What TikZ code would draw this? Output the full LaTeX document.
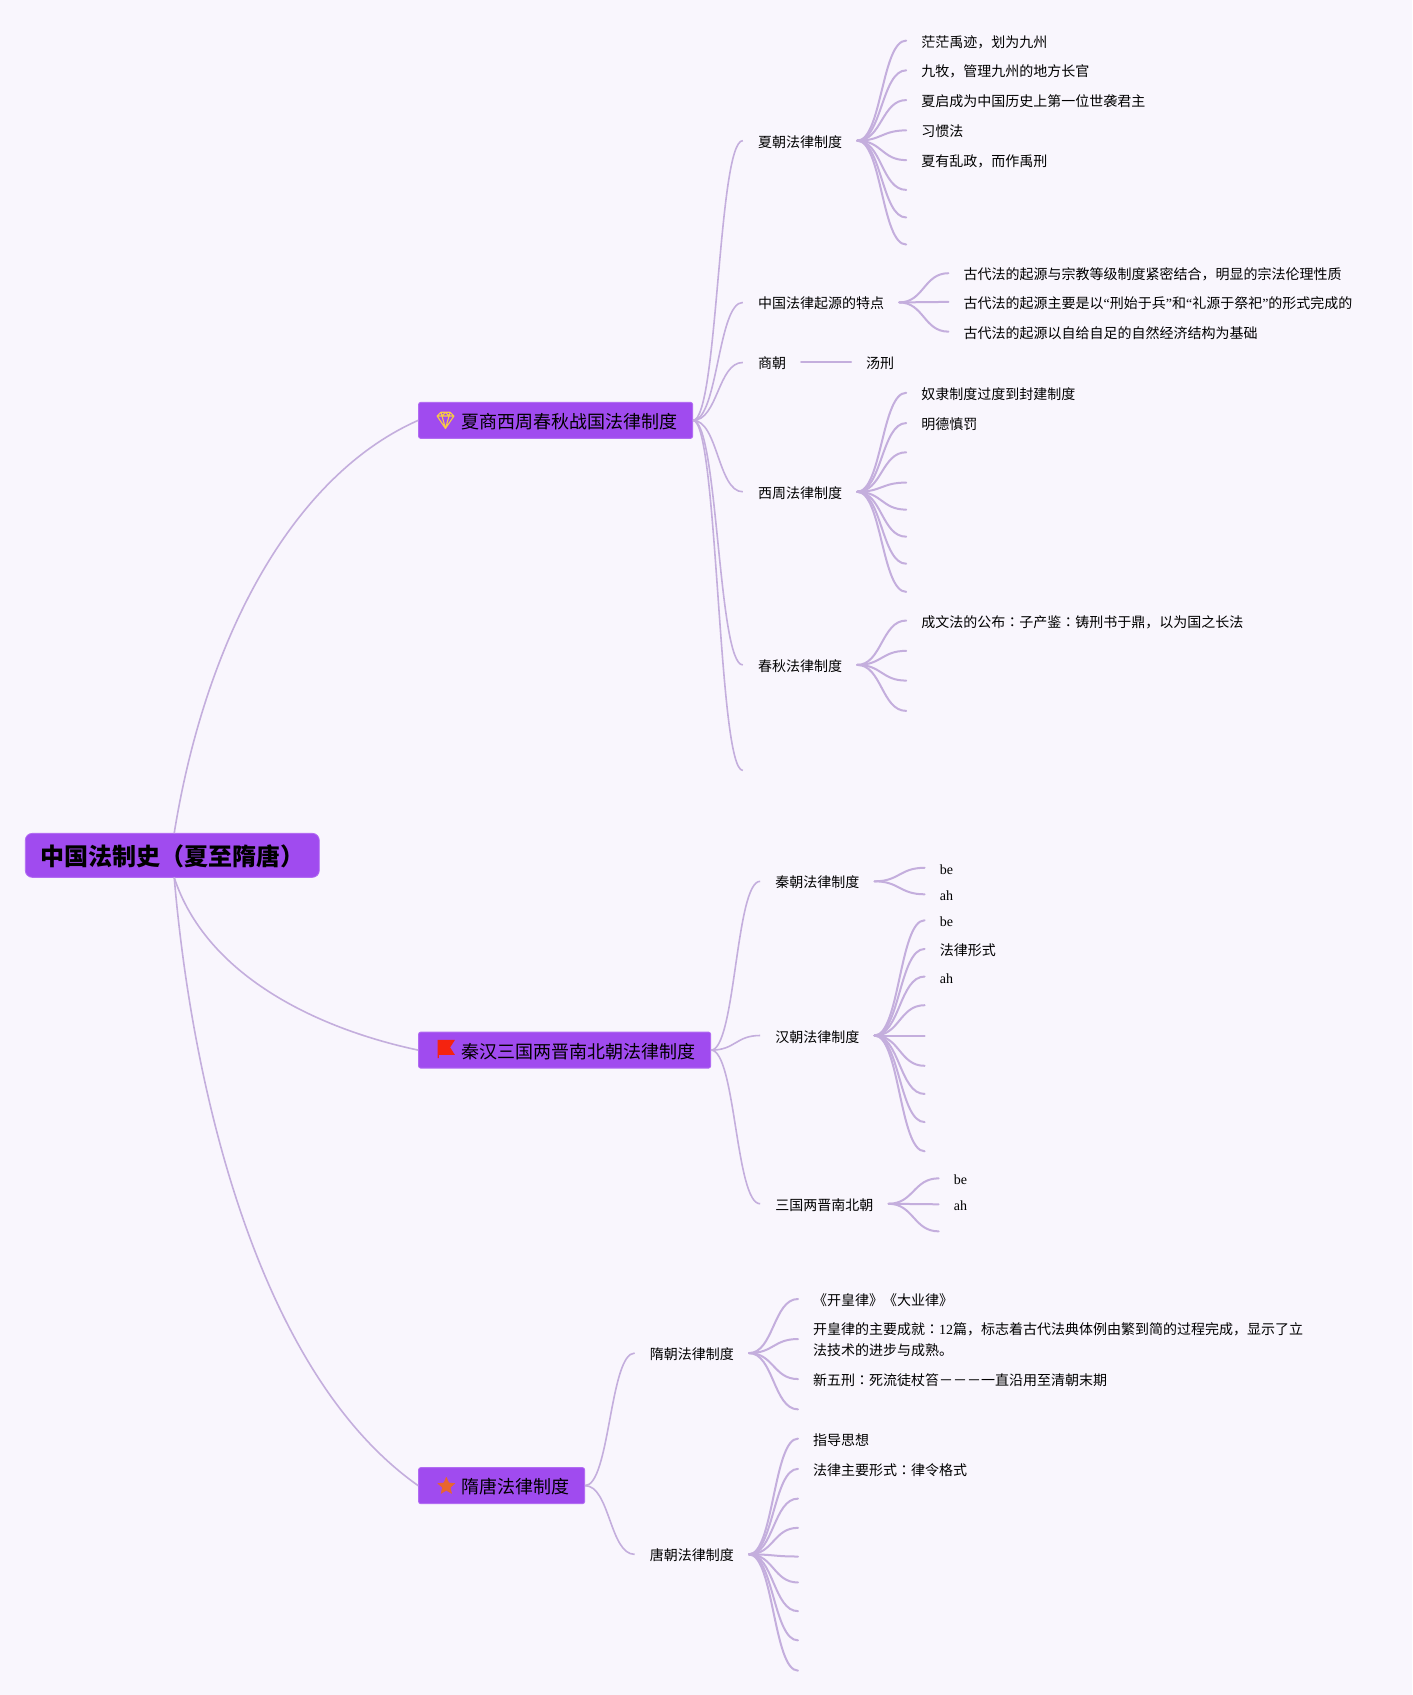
\documentclass[tikz,border=0pt]{standalone}
\usepackage{fontspec}
\setmainfont{Liberation Serif}
\newfontfamily\cjk{Noto Sans CJK SC}
\newfontfamily\cjktc{Noto Sans CJK TC}
\newfontfamily\latinf{Liberation Serif}
\newcommand{\latn}[1]{{\latinf #1}}
\newcommand{\colonm}{{\cjktc ：}}
\usetikzlibrary{calc,shapes.geometric}
\definecolor{bgc}{HTML}{F9F6FD}
\definecolor{boxc}{HTML}{A04BEF}
\definecolor{edgec}{HTML}{B26CF2}
\definecolor{linkc}{HTML}{C4AEDD}
\definecolor{gemc}{HTML}{F7CB45}
\definecolor{flagc}{HTML}{F5230F}
\definecolor{starc}{HTML}{E8652F}
\tikzset{
    brn/.style={to path={let \p1=(\tikztostart),\p2=(\tikztotarget) in
        .. controls ({0.5*\x1+0.5*\x2},\y1) and ({0.5*\x1+0.5*\x2},\y2) .. (\p2)}},
    toplink/.style={draw=linkc, line width=1.6pt},
    fan/.style={draw=linkc, line width=2pt, line cap=round},
    rootbox/.style={anchor=west, fill=boxc, draw=edgec, line width=0.8pt, rounded corners=7pt, minimum height=44pt, inner xsep=15pt, text height=23pt, text depth=3pt, font=\cjk\bfseries\fontsize{24}{28}\selectfont},
    mainbox/.style={anchor=west, fill=boxc, draw=edgec, line width=0.8pt, rounded corners=2pt, minimum height=36pt, inner xsep=15pt, text height=18pt, text depth=2pt, font=\cjk\fontsize{18}{22}\selectfont},
    leaf/.style={anchor=west, align=left, inner xsep=15pt, inner ysep=0pt, text height=16pt, text depth=3pt, font=\cjk\fontsize{14}{21}\selectfont}
}
\begin{document}
\begin{tikzpicture}[x=1.082pt, y=-1.082pt]
    \useasboundingbox (0,0) rectangle (1305,1566.5);
    \fill[bgc] (0,0) rectangle (1305,1566.5);
    % top boxes
    \node[rootbox] (root) at (23,790.5) {中国法制史（夏至隋唐）};
    \node[mainbox] (law1) at (386.5,388.5) {\hspace*{28pt}夏商西周春秋战国法律制度};
    \node[mainbox] (law2) at (386.5,970.5) {\hspace*{28pt}秦汉三国两晋南北朝法律制度};
    \node[mainbox] (law3) at (386.5,1373) {\hspace*{28pt}隋唐法律制度};
    \coordinate (roottop) at (161,770);
    \coordinate (rootbot) at (161,811);
    \draw[toplink] (roottop) .. controls (190,590) and (270,440) .. (law1.west);
    \draw[toplink] (rootbot) .. controls (190,900) and (290,950) .. (law2.west);
    \draw[toplink] (rootbot) .. controls (178,1010) and (240,1270) .. (law3.west);
    % icons
    \draw[draw=gemc, line width=1.1pt, line join=round] (404,384.5) -- (407.5,381) -- (416,381) -- (419.5,384.5) -- (411.7,396) -- cycle (404,384.5) -- (419.5,384.5) (408.5,384.5) -- (411.7,396) -- (415,384.5) (407.5,381) -- (408.5,384.5) -- (411.7,381) -- (415,384.5) -- (416,381);
    \fill[flagc] (404.5,961) -- (420.5,961) -- (416,968) -- (420.5,975) -- (405.5,975) -- (405.5,978) -- (404.5,978) -- cycle;
    \node[star, star points=5, star point ratio=2.2, fill=starc, draw=starc, line join=round, inner sep=0pt, minimum size=18pt] (staricon) at (412.5,1373.5) {};
    % first branch
    \node[leaf] (xia) at (686.5,130) {夏朝法律制度};
    \node[leaf] (origin) at (686.5,279.5) {中国法律起源的特点};
    \node[leaf] (shang) at (686.5,335) {商朝};
    \node[leaf] (zhou) at (686.5,454.5) {西周法律制度};
    \node[leaf] (chun) at (686.5,614.5) {春秋法律制度};
    \coordinate (zhan) at (686.5,712);
    \foreach \nm in {xia,origin,shang,zhou,chun}
        \draw[toplink] (law1.east) to[brn] (\nm.west);
    \draw[toplink] (law1.east) to[brn] (zhan);
    \foreach \yy/\t [count=\i] in {37.5/{茫茫禹迹，划为九州},65/{九牧，管理九州的地方长官},92.5/{夏启成为中国历史上第一位世袭君主},120.5/{习惯法},148/{夏有乱政，而作禹刑}} {
        \node[leaf] (xia\i) at (837.5,\yy) {\t};
        \draw[fan] (xia.east) to[brn] (xia\i.west);
    }
    \foreach \yy [count=\i from 6] in {175.5,201,226} {
        \coordinate (xia\i) at (837.5,\yy);
        \draw[fan] (xia.east) to[brn] (xia\i);
    }
    \foreach \yy/\t [count=\i] in {252.5/{古代法的起源与宗教等级制度紧密结合，明显的宗法伦理性质},279/{古代法的起源主要是以\latn{“}刑始于兵\latn{”}和\latn{“}礼源于祭祀\latn{”}的形式完成的},306.5/{古代法的起源以自给自足的自然经济结构为基础}} {
        \node[leaf] (origin\i) at (876.5,\yy) {\t};
        \draw[fan] (origin.east) to[brn] (origin\i.west);
    }
    \node[leaf] (shang1) at (786.5,335) {汤刑};
    \draw[fan] (shang.east) -- (shang1.west);
    \foreach \yy/\t [count=\i] in {363/{奴隶制度过度到封建制度},391/{明德慎罚}} {
        \node[leaf] (zhou\i) at (837.5,\yy) {\t};
        \draw[fan] (zhou.east) to[brn] (zhou\i.west);
    }
    \foreach \yy [count=\i from 3] in {418,446,471,496,521,547} {
        \coordinate (zhou\i) at (837.5,\yy);
        \draw[fan] (zhou.east) to[brn] (zhou\i);
    }
    \node[leaf] (chun1) at (837.5,573.5) {成文法的公布\colonm 子产鉴\colonm 铸刑书于鼎，以为国之长法};
    \draw[fan] (chun.east) to[brn] (chun1.west);
    \foreach \yy [count=\i from 2] in {601.5,629,657} {
        \coordinate (chun\i) at (837.5,\yy);
        \draw[fan] (chun.east) to[brn] (chun\i);
    }
    % second branch
    \node[leaf] (qin) at (702.5,814.5) {秦朝法律制度};
    \node[leaf] (han) at (702.5,957) {汉朝法律制度};
    \node[leaf] (wei) at (702.5,1112.5) {三国两晋南北朝};
    \foreach \nm in {qin,han,wei}
        \draw[toplink] (law2.east) to[brn] (\nm.west);
    \foreach \yy/\t [count=\i] in {802/{\latn{be}},826.5/{\latn{ah}}} {
        \node[leaf] (qin\i) at (854.5,\yy) {\t};
        \draw[fan] (qin.east) to[brn] (qin\i.west);
    }
    \foreach \yy/\t [count=\i] in {850.5/{\latn{be}},877/{法律形式},902.5/{\latn{ah}}} {
        \node[leaf] (han\i) at (854.5,\yy) {\t};
        \draw[fan] (han.east) to[brn] (han\i.west);
    }
    \foreach \yy [count=\i from 4] in {929,957,985,1011,1037,1064} {
        \coordinate (han\i) at (854.5,\yy);
        \draw[fan] (han.east) to[brn] (han\i);
    }
    \foreach \yy/\t [count=\i] in {1089/{\latn{be}},1113/{\latn{ah}}} {
        \node[leaf] (wei\i) at (867.5,\yy) {\t};
        \draw[fan] (wei.east) to[brn] (wei\i.west);
    }
    \coordinate (wei3) at (867.5,1138);
    \draw[fan] (wei.east) to[brn] (wei3);
    % third branch
    \node[leaf] (sui) at (586.5,1250.5) {隋朝法律制度};
    \node[leaf] (tang) at (586.5,1436.5) {唐朝法律制度};
    \foreach \nm in {sui,tang}
        \draw[toplink] (law3.east) to[brn] (\nm.west);
    \foreach \i/\yy/\t in {1/1200.5/{《开皇律》《大业律》},3/1274.5/{新五刑\colonm 死流徒杖笞－－－一直沿用至清朝末期}} {
        \node[leaf] (sui\i) at (737.5,\yy) {\t};
        \draw[fan] (sui.east) to[brn] (sui\i.west);
    }
    \node[leaf, text height=35.6pt] (sui2) at (737.5,1237.5) {开皇律的主要成就\colonm\latn{12}篇，标志着古代法典体例由繁到简的过程完成，显示了立\\法技术的进步与成熟。};
    \draw[fan] (sui.east) to[brn] (sui2.west);
    \coordinate (sui4) at (737.5,1302.5);
    \draw[fan] (sui.east) to[brn] (sui4);
    \foreach \yy/\t [count=\i] in {1329.5/{指导思想},1357.5/{法律主要形式\colonm 律令格式}} {
        \node[leaf] (tang\i) at (737.5,\yy) {\t};
        \draw[fan] (tang.east) to[brn] (tang\i.west);
    }
    \foreach \yy [count=\i from 3] in {1385,1412,1438.5,1462.5,1489,1516,1544} {
        \coordinate (tang\i) at (737.5,\yy);
        \draw[fan] (tang.east) to[brn] (tang\i);
    }
\end{tikzpicture}
\end{document}
